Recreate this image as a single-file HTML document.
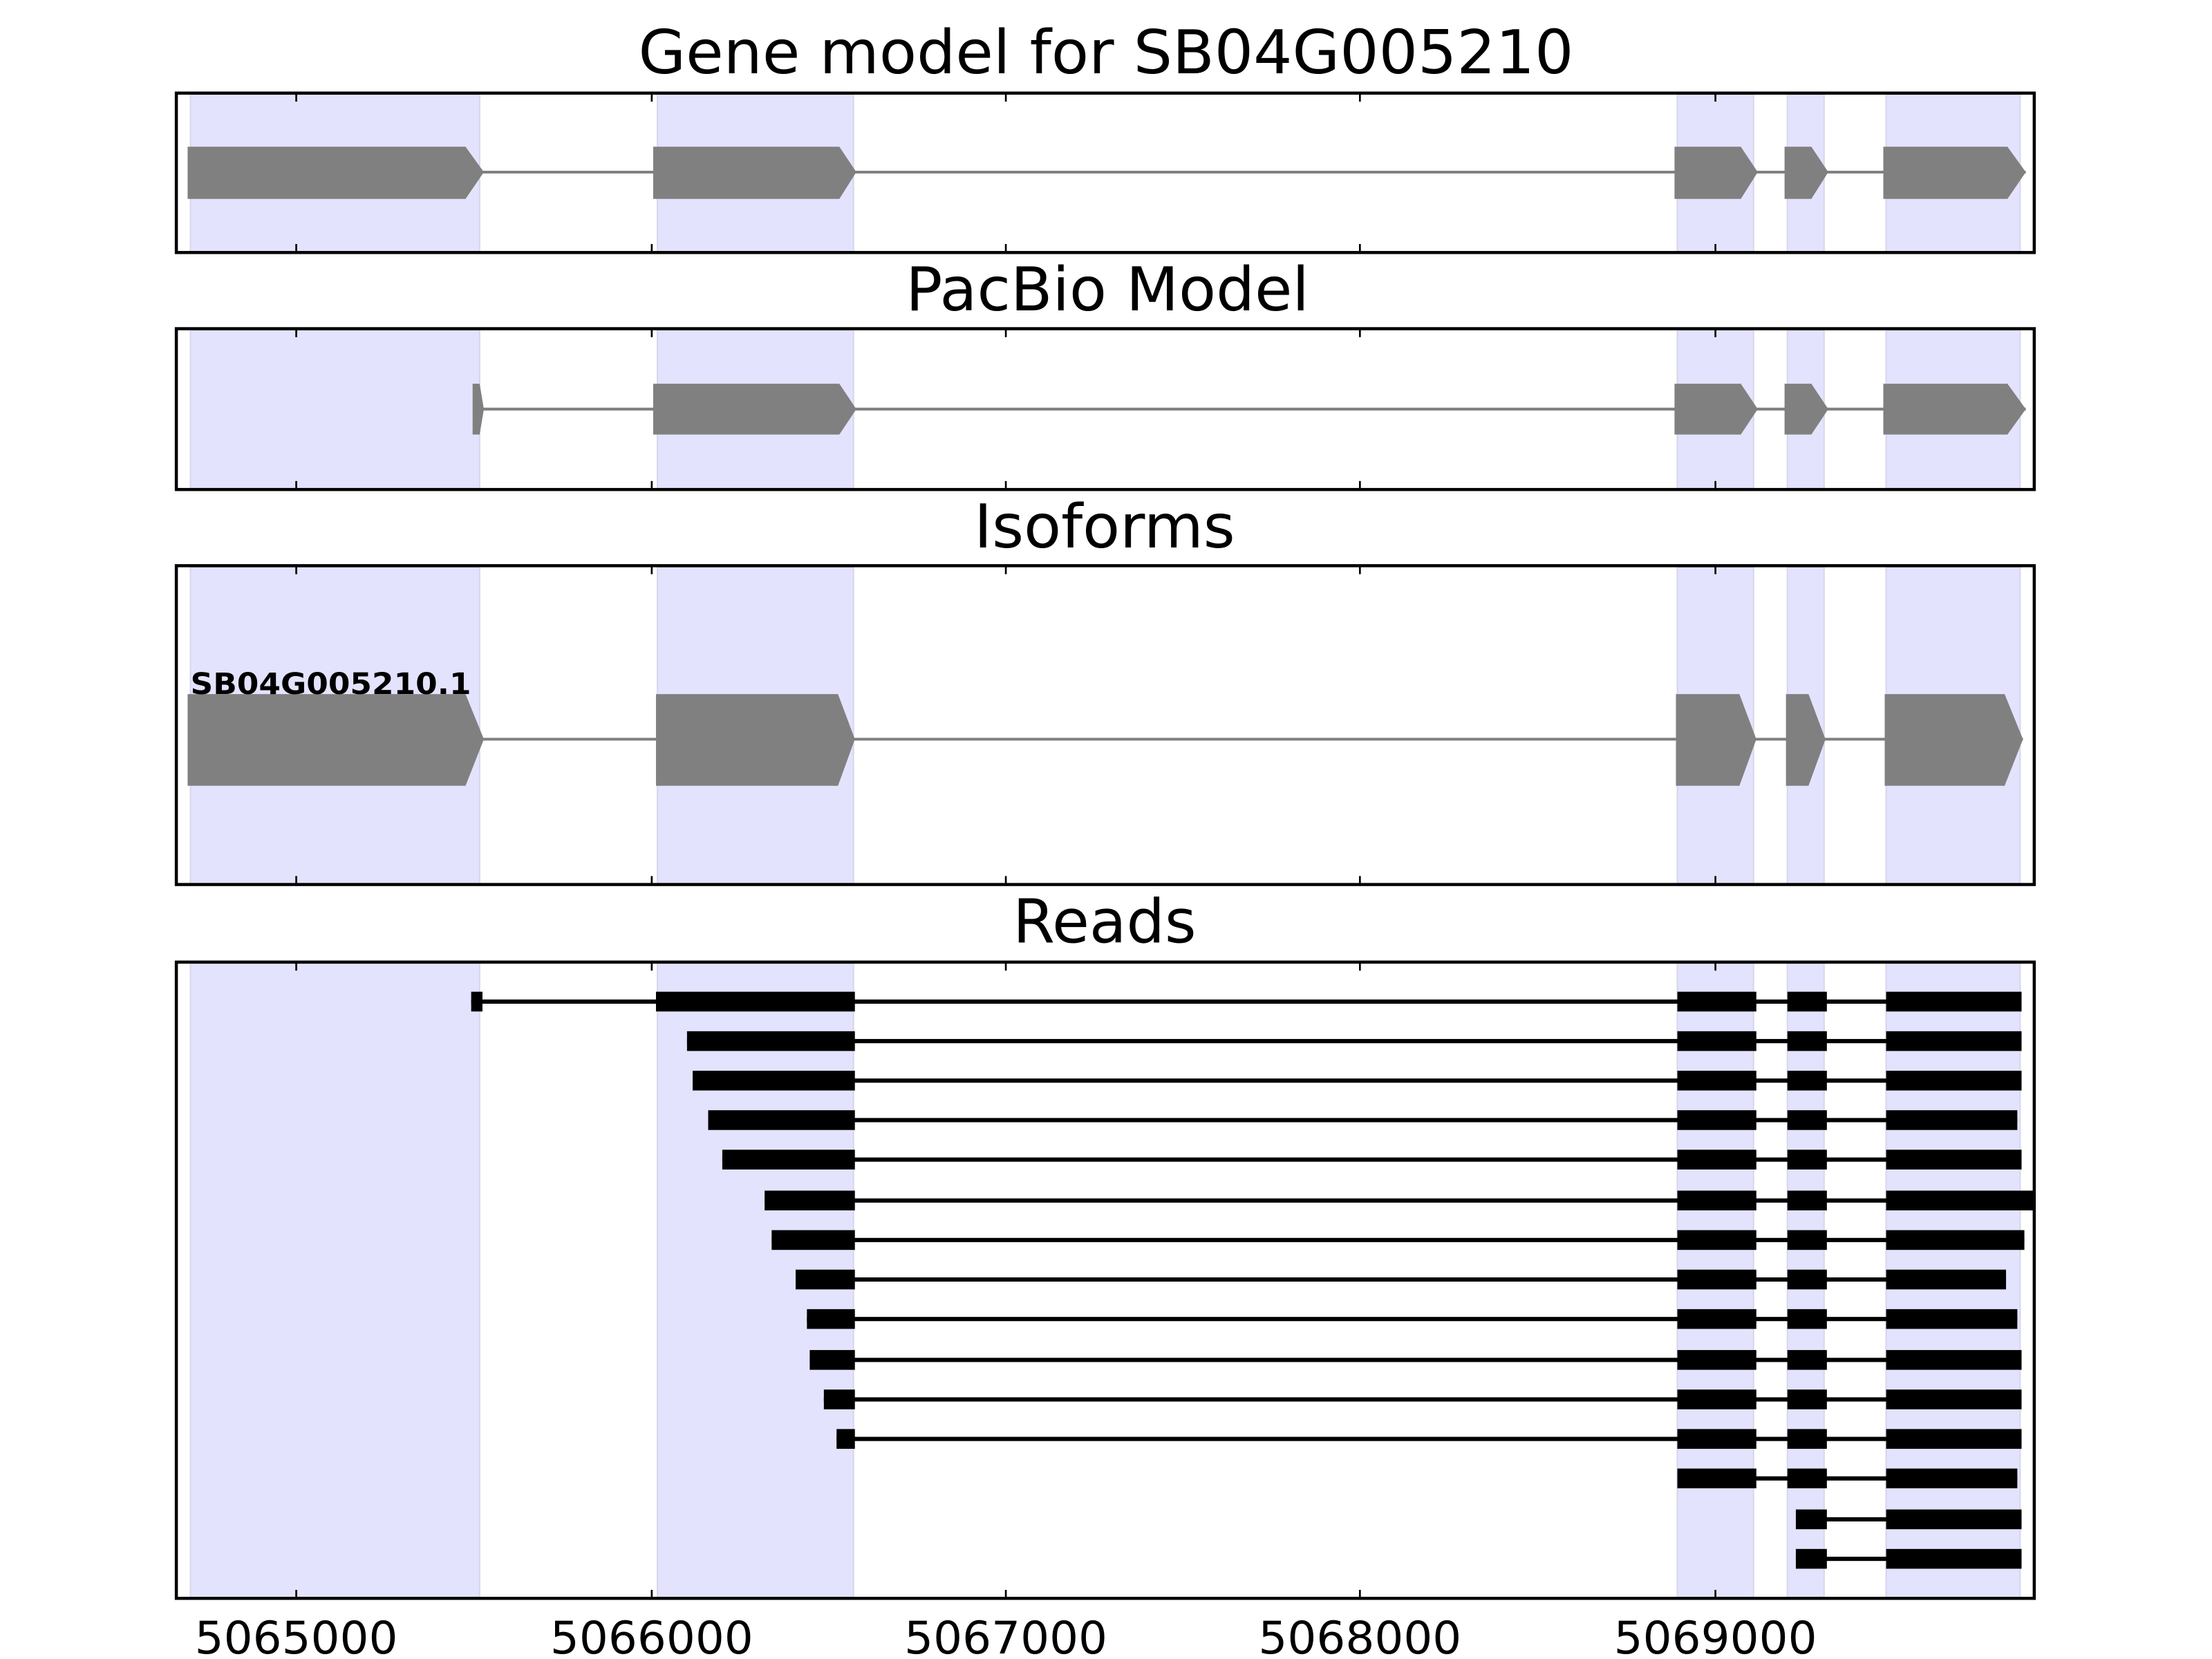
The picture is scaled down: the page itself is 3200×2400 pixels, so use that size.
<!DOCTYPE html>
<html><head><meta charset="utf-8"><style>html,body{margin:0;padding:0;background:#fff}svg{display:block}</style></head>
<body>
<svg width="3200" height="2400" viewBox="0 0 1568 1176" xmlns="http://www.w3.org/2000/svg" font-family="DejaVu Sans, Liberation Sans, sans-serif">
<!-- shaded regions per panel -->
<g fill="#e3e3fd" stroke="#d6d6ec" stroke-width="1">
<rect x="135" y="67" width="205" height="112"/><rect x="466" y="67" width="139" height="112"/><rect x="1189" y="67" width="54" height="112"/><rect x="1267" y="67" width="26" height="112"/><rect x="1337" y="67" width="95" height="112"/>
<rect x="135" y="234" width="205" height="113"/><rect x="466" y="234" width="139" height="113"/><rect x="1189" y="234" width="54" height="113"/><rect x="1267" y="234" width="26" height="113"/><rect x="1337" y="234" width="95" height="113"/>
<rect x="135" y="402" width="205" height="225"/><rect x="466" y="402" width="139" height="225"/><rect x="1189" y="402" width="54" height="225"/><rect x="1267" y="402" width="26" height="225"/><rect x="1337" y="402" width="95" height="225"/>
<rect x="135" y="683" width="205" height="450"/><rect x="466" y="683" width="139" height="450"/><rect x="1189" y="683" width="54" height="450"/><rect x="1267" y="683" width="26" height="450"/><rect x="1337" y="683" width="95" height="450"/>
</g>
<!-- titles -->
<g font-size="43" text-anchor="middle" fill="#000">
<text x="784" y="52" textLength="663" lengthAdjust="spacingAndGlyphs">Gene model for SB04G005210</text>
<text x="785" y="220" textLength="286" lengthAdjust="spacingAndGlyphs">PacBio Model</text>
<text x="783" y="388" textLength="185" lengthAdjust="spacingAndGlyphs">Isoforms</text>
<text x="783" y="668" textLength="130" lengthAdjust="spacingAndGlyphs">Reads</text>
</g>
<!-- gene model -->
<g fill="#808080">
<line x1="340" y1="122" x2="1436" y2="122" stroke="#808080" stroke-width="2"/>
<polygon points="133,104 330,104 343,122 330,141 133,141"/>
<polygon points="463,104 595,104 607,122 595,141 463,141"/>
<polygon points="1187,104 1234,104 1246,122 1234,141 1187,141"/>
<polygon points="1265,104 1284,104 1296,122 1284,141 1265,141"/>
<polygon points="1335,104 1423,104 1436,122 1423,141 1335,141"/>
</g>
<g fill="#808080">
<line x1="340" y1="290" x2="1436" y2="290" stroke="#808080" stroke-width="2"/>
<polygon points="335,272 340,272 343,290 340,308 335,308"/>
<polygon points="463,272 595,272 607,290 595,308 463,308"/>
<polygon points="1187,272 1234,272 1246,290 1234,308 1187,308"/>
<polygon points="1265,272 1284,272 1296,290 1284,308 1265,308"/>
<polygon points="1335,272 1423,272 1436,290 1423,308 1335,308"/>
</g>
<g fill="#808080">
<line x1="340" y1="524" x2="1434" y2="524" stroke="#808080" stroke-width="2"/>
<polygon points="133,492 330,492 343,524 330,557 133,557"/>
<polygon points="465,492 594,492 606,524 594,557 465,557"/>
<polygon points="1188,492 1233,492 1245,524 1233,557 1188,557"/>
<polygon points="1266,492 1282,492 1294,524 1282,557 1266,557"/>
<polygon points="1336,492 1421,492 1434,524 1421,557 1336,557"/>
</g>
<text x="135" y="492" font-size="21" font-weight="bold" textLength="199" lengthAdjust="spacingAndGlyphs">SB04G005210.1</text>
<!-- reads -->
<g fill="#000">
<g transform="translate(0,710)"><rect x="334" y="-1.5" width="1099" height="3"/><rect x="334" y="-7" width="8" height="14"/><rect x="465" y="-7" width="141" height="14"/><rect x="1189" y="-7" width="56" height="14"/><rect x="1267" y="-7" width="28" height="14"/><rect x="1337" y="-7" width="96" height="14"/></g>
<g transform="translate(0,738)"><rect x="487" y="-1.5" width="946" height="3"/><rect x="487" y="-7" width="119" height="14"/><rect x="1189" y="-7" width="56" height="14"/><rect x="1267" y="-7" width="28" height="14"/><rect x="1337" y="-7" width="96" height="14"/></g>
<g transform="translate(0,766)"><rect x="491" y="-1.5" width="942" height="3"/><rect x="491" y="-7" width="115" height="14"/><rect x="1189" y="-7" width="56" height="14"/><rect x="1267" y="-7" width="28" height="14"/><rect x="1337" y="-7" width="96" height="14"/></g>
<g transform="translate(0,794)"><rect x="502" y="-1.5" width="928" height="3"/><rect x="502" y="-7" width="104" height="14"/><rect x="1189" y="-7" width="56" height="14"/><rect x="1267" y="-7" width="28" height="14"/><rect x="1337" y="-7" width="93" height="14"/></g>
<g transform="translate(0,822)"><rect x="512" y="-1.5" width="921" height="3"/><rect x="512" y="-7" width="94" height="14"/><rect x="1189" y="-7" width="56" height="14"/><rect x="1267" y="-7" width="28" height="14"/><rect x="1337" y="-7" width="96" height="14"/></g>
<g transform="translate(0,851)"><rect x="542" y="-1.5" width="900" height="3"/><rect x="542" y="-7" width="64" height="14"/><rect x="1189" y="-7" width="56" height="14"/><rect x="1267" y="-7" width="28" height="14"/><rect x="1337" y="-7" width="105" height="14"/></g>
<g transform="translate(0,879)"><rect x="547" y="-1.5" width="888" height="3"/><rect x="547" y="-7" width="59" height="14"/><rect x="1189" y="-7" width="56" height="14"/><rect x="1267" y="-7" width="28" height="14"/><rect x="1337" y="-7" width="98" height="14"/></g>
<g transform="translate(0,907)"><rect x="564" y="-1.5" width="858" height="3"/><rect x="564" y="-7" width="42" height="14"/><rect x="1189" y="-7" width="56" height="14"/><rect x="1267" y="-7" width="28" height="14"/><rect x="1337" y="-7" width="85" height="14"/></g>
<g transform="translate(0,935)"><rect x="572" y="-1.5" width="858" height="3"/><rect x="572" y="-7" width="34" height="14"/><rect x="1189" y="-7" width="56" height="14"/><rect x="1267" y="-7" width="28" height="14"/><rect x="1337" y="-7" width="93" height="14"/></g>
<g transform="translate(0,964)"><rect x="574" y="-1.5" width="859" height="3"/><rect x="574" y="-7" width="32" height="14"/><rect x="1189" y="-7" width="56" height="14"/><rect x="1267" y="-7" width="28" height="14"/><rect x="1337" y="-7" width="96" height="14"/></g>
<g transform="translate(0,992)"><rect x="584" y="-1.5" width="849" height="3"/><rect x="584" y="-7" width="22" height="14"/><rect x="1189" y="-7" width="56" height="14"/><rect x="1267" y="-7" width="28" height="14"/><rect x="1337" y="-7" width="96" height="14"/></g>
<g transform="translate(0,1020)"><rect x="593" y="-1.5" width="840" height="3"/><rect x="593" y="-7" width="13" height="14"/><rect x="1189" y="-7" width="56" height="14"/><rect x="1267" y="-7" width="28" height="14"/><rect x="1337" y="-7" width="96" height="14"/></g>
<g transform="translate(0,1048)"><rect x="1189" y="-1.5" width="241" height="3"/><rect x="1189" y="-7" width="56" height="14"/><rect x="1267" y="-7" width="28" height="14"/><rect x="1337" y="-7" width="93" height="14"/></g>
<g transform="translate(0,1077)"><rect x="1273" y="-1.5" width="160" height="3"/><rect x="1273" y="-7" width="22" height="14"/><rect x="1337" y="-7" width="96" height="14"/></g>
<g transform="translate(0,1105)"><rect x="1273" y="-1.5" width="160" height="3"/><rect x="1273" y="-7" width="22" height="14"/><rect x="1337" y="-7" width="96" height="14"/></g>
</g>
<!-- frames -->
<g fill="none" stroke="#000" stroke-width="2.2">
<rect x="125" y="66" width="1317" height="113"/>
<rect x="125" y="233" width="1317" height="114"/>
<rect x="125" y="401" width="1317" height="226"/>
<rect x="125" y="682" width="1317" height="451"/>
</g>
<!-- ticks -->
<g stroke="#000" stroke-width="1.3">
<path d="M210,66v6M462,66v6M713,66v6M964,66v6M1216,66v6M210,179v-6M462,179v-6M713,179v-6M964,179v-6M1216,179v-6"/>
<path d="M210,233v6M462,233v6M713,233v6M964,233v6M1216,233v6M210,347v-6M462,347v-6M713,347v-6M964,347v-6M1216,347v-6"/>
<path d="M210,401v6M462,401v6M713,401v6M964,401v6M1216,401v6M210,627v-6M462,627v-6M713,627v-6M964,627v-6M1216,627v-6"/>
<path d="M210,682v6M462,682v6M713,682v6M964,682v6M1216,682v6M210,1133v-6M462,1133v-6M713,1133v-6M964,1133v-6M1216,1133v-6"/>
</g>
<g font-size="32" text-anchor="middle" fill="#000">
<text x="210" y="1172" textLength="144" lengthAdjust="spacingAndGlyphs">5065000</text>
<text x="462" y="1172" textLength="144" lengthAdjust="spacingAndGlyphs">5066000</text>
<text x="713" y="1172" textLength="144" lengthAdjust="spacingAndGlyphs">5067000</text>
<text x="964" y="1172" textLength="144" lengthAdjust="spacingAndGlyphs">5068000</text>
<text x="1216" y="1172" textLength="144" lengthAdjust="spacingAndGlyphs">5069000</text>
</g>
</svg>
</body></html>
